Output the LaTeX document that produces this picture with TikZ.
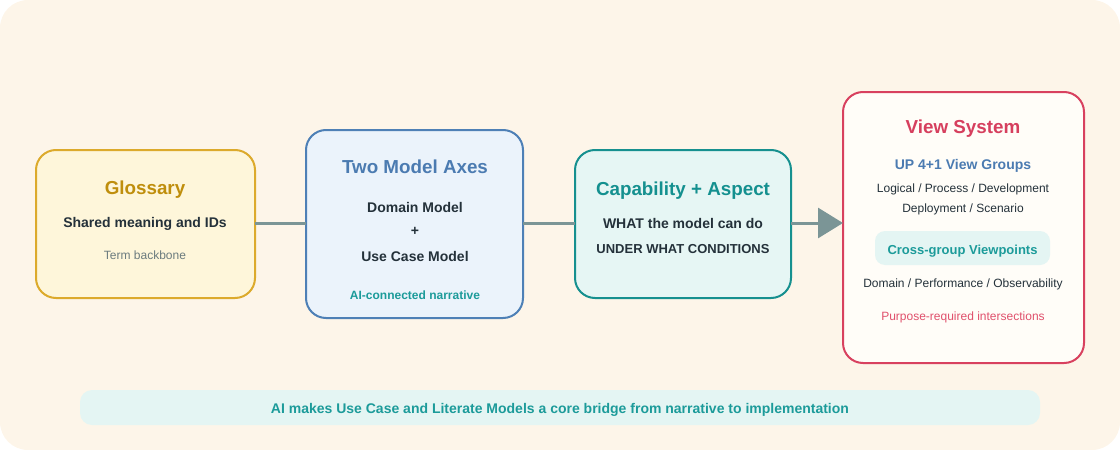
\documentclass[tikz,border=0pt]{standalone}
\usepackage{fontspec}
\setmainfont{Liberation Sans}
\usetikzlibrary{arrows.meta}
\definecolor{bgc}{HTML}{FDF5E9}
\definecolor{glfill}{HTML}{FEF6DA}
\definecolor{gldraw}{HTML}{DCAA2C}
\definecolor{gltext}{HTML}{BF8E0C}
\definecolor{tmfill}{HTML}{EBF3FB}
\definecolor{tmdraw}{HTML}{4E80B6}
\definecolor{tmtext}{HTML}{4B7BB1}
\definecolor{cafill}{HTML}{E6F6F4}
\definecolor{cadraw}{HTML}{16908F}
\definecolor{catext}{HTML}{14908F}
\definecolor{vsfill}{HTML}{FFFDF8}
\definecolor{vsdraw}{HTML}{D8415F}
\definecolor{vstext}{HTML}{D63F5E}
\definecolor{pinktext}{HTML}{E0506C}
\definecolor{darktext}{HTML}{24313A}
\definecolor{graytext}{HTML}{6B7B7E}
\definecolor{linec}{HTML}{7B9596}
\definecolor{pillfill}{HTML}{E4F5F3}
\definecolor{aitext}{HTML}{1C9B9A}
\tikzset{
  box/.style={rounded corners=20pt, line width=2pt},
  ttl/.style={font=\fontsize{18.8}{22}\selectfont\bfseries, anchor=center},
  sub/.style={font=\fontsize{14}{16}\selectfont\bfseries, text=darktext, anchor=center},
  reg/.style={font=\fontsize{12}{14}\selectfont, text=darktext, anchor=center},
  conn/.style={draw=linec, line width=3pt},
  txt/.style={yshift=-1.5pt},
}
\begin{document}
\begin{tikzpicture}[x=1pt,y=-1pt]
\useasboundingbox (0,0) rectangle (1120,450);
\fill[bgc, rounded corners=28pt] (0,0) rectangle (1120,450);

% boxes
\draw[box, fill=glfill, draw=gldraw] (36,150) rectangle (255,298);
\coordinate (glL) at (36,223); \coordinate (glR) at (255,223);
\draw[box, fill=tmfill, draw=tmdraw] (306,130) rectangle (523,318);
\coordinate (tmL) at (306,223); \coordinate (tmR) at (523,223);
\draw[box, fill=cafill, draw=cadraw] (575,150) rectangle (791,298);
\coordinate (caL) at (575,223); \coordinate (caR) at (791,223);
\draw[box, fill=vsfill, draw=vsdraw] (843,92) rectangle (1084,363);
\coordinate (vsL) at (842,223);

% connectors
\draw[conn] (glR) -- (tmL);
\draw[conn] (tmR) -- (caL);
\draw[conn, -{Triangle[length=25pt,width=30pt]}, shorten >=-1pt] (caR) -- (vsL);

% glossary
\node[txt, ttl, text=gltext] (g1) at (145,188) {Glossary};
\node[txt, sub] (g2) at (145,222) {Shared meaning and IDs};
\node[txt, reg, text=graytext] (g3) at (145,254) {Term backbone};

% two model axes
\node[txt, ttl, text=tmtext] (t1) at (415,165) {Two Model Axes};
\node[txt, sub] (t2) at (415,206) {Domain Model};
\node[txt, sub] (t3) at (415,230) {+};
\node[txt, sub] (t4) at (415,255) {Use Case Model};
\node[txt, font=\fontsize{12}{14}\selectfont\bfseries, text=aitext] (t5) at (415,294) {AI-connected narrative};

% capability
\node[txt, ttl, text=catext] (c1) at (683,189) {Capability + Aspect};
\node[txt, sub] (c2) at (683,222) {WHAT the model can do};
\node[txt, sub, font=\fontsize{13}{15}\selectfont\bfseries] (c3) at (683,248) {UNDER WHAT CONDITIONS};

% view system
\node[txt, ttl, text=vstext] (v1) at (963,127) {View System};
\node[txt, font=\fontsize{14}{16}\selectfont\bfseries, text=tmtext] (v2) at (963,164) {UP 4+1 View Groups};
\node[txt, reg] (v3) at (963,188) {Logical / Process / Development};
\node[txt, reg] (v4) at (963,208) {Deployment / Scenario};
\fill[pillfill, rounded corners=10pt] (875,231) rectangle (1050,265);
\node[txt, font=\fontsize{13}{15}\selectfont\bfseries, text=aitext] (v5) at (962.5,249.5) {Cross-group Viewpoints};
\node[txt, reg] (v6) at (963,283) {Domain / Performance / Observability};
\node[txt, reg, text=pinktext] (v7) at (963,316) {Purpose-required intersections};

% bottom band
\fill[pillfill, rounded corners=12pt] (80,390) rectangle (1040,425);
\node[txt, font=\fontsize{14}{16}\selectfont\bfseries, text=aitext] (b1) at (560,408) {AI makes Use Case and Literate Models a core bridge from narrative to implementation};
\end{tikzpicture}
\end{document}
